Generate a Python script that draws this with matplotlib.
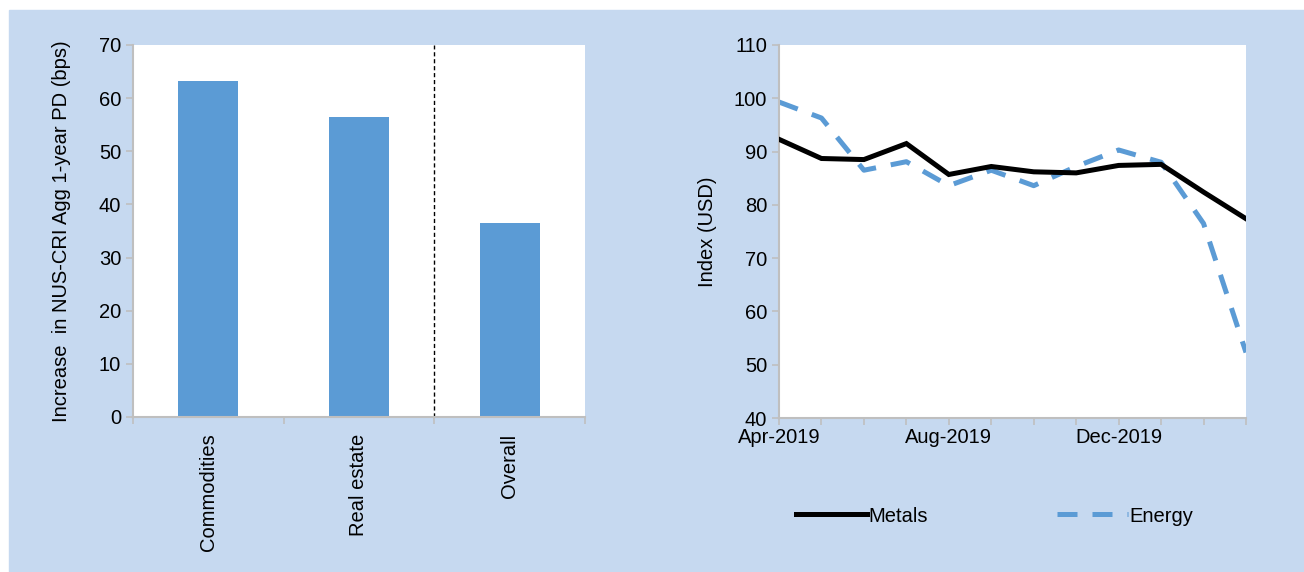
import numpy as np
import matplotlib
matplotlib.use("Agg")
import matplotlib.pyplot as plt
from matplotlib.patches import Rectangle

plt.rcParams["font.family"] = ["Liberation Sans", "DejaVu Sans"]

# ── Data ────────────────────────────────────────────────────────────────
categories = ["Commodities", "Real estate", "Overall"]
pd_increase = [63.2, 56.5, 36.5]

months = ["Apr-2019", "May-2019", "Jun-2019", "Jul-2019", "Aug-2019", "Sep-2019",
          "Oct-2019", "Nov-2019", "Dec-2019", "Jan-2020", "Feb-2020", "Mar-2020"]
metals = [92.3, 88.7, 88.5, 91.5, 85.7, 87.2, 86.2, 86.0, 87.4, 87.6, 82.4, 77.4]
energy = [99.3, 96.3, 86.5, 88.1, 83.6, 86.5, 83.6, 87.2, 90.3, 88.0, 76.5, 52.3]

# ── Colours / sizes ─────────────────────────────────────────────────────
BG = "#c6d9f0"
BLUE = "#5b9bd5"
AXIS = "#bfbfbf"
FS = 14.5

W, H = 1304, 572
fig = plt.figure(figsize=(W / 100, H / 100), dpi=100)
fig.patches.append(Rectangle((9 / W, 0), 1 - 9 / W, 1 - 10 / H,
                             transform=fig.transFigure, color=BG, zorder=-5))


def px_axes(x0, y0, x1, y1):
    return fig.add_axes([x0 / W, 1 - y1 / H, (x1 - x0) / W, (y1 - y0) / H])


def style(ax):
    for s in ["top", "right"]:
        ax.spines[s].set_visible(False)
    for s in ["left", "bottom"]:
        ax.spines[s].set_color(AXIS)
        ax.spines[s].set_linewidth(1.5)
    ax.tick_params(colors=AXIS, labelcolor="black", labelsize=FS, length=5, width=1.2)


# ── Left: bar chart ─────────────────────────────────────────────────────
ax = px_axes(133, 45, 585, 417)
x = np.arange(len(categories))
ax.bar(x, pd_increase, width=0.4, color=BLUE, zorder=2)
ax.axvline(1.5, color="black", linestyle=(0, (3, 2)), linewidth=1)
ax.set_xlim(-0.5, 2.5)
ax.set_ylim(0, 70)
ax.set_yticks(range(0, 71, 10))
ax.set_xticks([-0.5, 0.5, 1.5, 2.5])
ax.set_xticklabels([])
style(ax)
ax.set_xticks(x, minor=True)
ax.set_xticklabels(categories, minor=True, rotation=90, fontsize=FS)
ax.tick_params(axis="x", which="minor", length=0, pad=12)
ax.set_ylabel("Increase  in NUS-CRI Agg 1-year PD (bps)", fontsize=FS, labelpad=20)

# ── Right: line chart ───────────────────────────────────────────────────
ax2 = px_axes(779, 45, 1246, 418)
t = np.arange(len(months))
ax2.plot(t, metals, color="black", linewidth=3.6, label="Metals",
         solid_joinstyle="miter", zorder=3)
ax2.plot(t, energy, color=BLUE, linewidth=3.6, dashes=(4, 3), label="Energy",
         zorder=2)
ax2.set_xlim(0, len(months) - 1)
ax2.set_ylim(40, 110)
ax2.set_yticks(range(40, 111, 10))
ax2.set_xticks(t)
ax2.set_xticklabels([m if i % 4 == 0 else "" for i, m in enumerate(months)])
style(ax2)
ax2.tick_params(axis="x", pad=2)
ax2.set_ylabel("Index (USD)", fontsize=FS, labelpad=12)

fig.legend(loc="center", bbox_to_anchor=(995 / W, 1 - 516 / H), ncol=2,
           frameon=False, fontsize=FS, handlelength=3.5, columnspacing=6.4,
           handletextpad=0.1)

fig.savefig("out.png", dpi=100)
